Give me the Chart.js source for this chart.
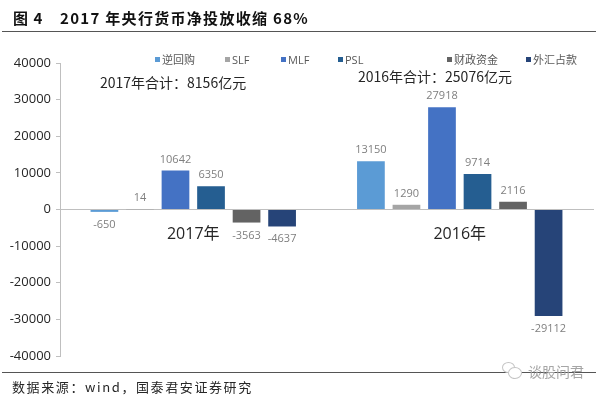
<!DOCTYPE html>
<html>
<head>
<meta charset="utf-8">
<script src="https://cdn.jsdelivr.net/npm/chart.js@4"></script>
<style>
  html, body { margin: 0; padding: 0; background: #fff; }
  #wrap { position: relative; width: 600px; height: 396px; overflow: hidden; font-family: "Noto Sans CJK SC", sans-serif; }
  #wrap canvas { position: absolute; left: 0; top: 0; }
  .txt { position: absolute; white-space: nowrap; color: #262626; }
  .rule { position: absolute; left: 2px; width: 594px; height: 1px; background: #555; }
  .legend-item { position: absolute; top: 52px; font-size: 11px; line-height: 16px; color: #595959; white-space: nowrap; font-family: "Open Sans", "Noto Sans CJK SC", sans-serif; }
  .legend-item i { display: inline-block; width: 5px; height: 5px; margin-right: 2px; vertical-align: 2px; }
  .wm { position: absolute; border: 1px solid #c4c4c4; border-radius: 50%; background: #fff; }
</style>
</head>
<body>
<div id="wrap">
  <canvas id="chart" width="600" height="396"></canvas>
  <div class="txt" style="left:13px;top:7px;font-size:15px;font-weight:700;color:#111;letter-spacing:1px">图 4</div>
  <div class="txt" style="left:60px;top:7px;font-size:15px;font-weight:700;color:#111;letter-spacing:1.3px">2017 年央行货币净投放收缩 68%</div>
  <div class="rule" style="top:31px"></div>
  <div class="txt" style="left:100px;top:72px;font-size:14px">2017年合计：8156亿元</div>
  <div class="txt" style="left:358px;top:66px;font-size:14px">2016年合计：25076亿元</div>
  <div class="rule" style="top:372px"></div>
  <div class="txt" style="left:12px;top:377px;font-size:13px;letter-spacing:1.6px">数据来源：wind，国泰君安证券研究</div>
  <div class="wm" style="left:502px;top:362px;width:11px;height:9px"></div>
  <div class="wm" style="left:508px;top:367px;width:12px;height:10px"></div>
  <div class="txt" style="left:528px;top:361px;font-size:14px;color:#a6a6a6">谈股问君</div>
  <div id="legend"></div>
</div>
<script>
const categories = ["2017年", "2016年"]
const seriesNames = ["逆回购", "SLF", "MLF", "PSL", "财政资金", "外汇占款"]
const reverseRepo = [-650, 13150]
const slf = [14, 1290]
const mlf = [10642, 27918]
const psl = [6350, 9714]
const fiscal = [-3563, 2116]
const fxReserves = [-4637, -29112]
const seriesColors = ["#5b9bd5", "#a5a5a5", "#4472c4", "#255e91", "#636363", "#264478"]
const legendLeft = [155, 225, 281, 338, 447, 526]

// Excel-style value labels outside the bar end
const valueLabels = {
  id: "valueLabels",
  afterDatasetsDraw(chart) {
    const ctx = chart.ctx
    ctx.save()
    ctx.font = '11px "Open Sans", sans-serif'
    ctx.fillStyle = "#7f7f7f"
    ctx.textAlign = "center"
    chart.data.datasets.forEach((ds, i) => {
      chart.getDatasetMeta(i).data.forEach((bar, j) => {
        const v = ds.data[j]
        const y = v >= 0 ? bar.y - 8 : bar.y + 16
        ctx.fillText(String(v), bar.x, y)
      })
    })
    ctx.restore()
  },
}

new Chart(document.getElementById("chart"), {
  type: "bar",
  data: {
    labels: categories,
    datasets: [reverseRepo, slf, mlf, psl, fiscal, fxReserves].map((values, i) => ({
      label: seriesNames[i],
      data: values,
      backgroundColor: seriesColors[i],
      categoryPercentage: 0.8,
      barPercentage: 0.78,
    })),
  },
  options: {
    responsive: false,
    animation: false,
    layout: { padding: { left: 0, right: 7, top: 63, bottom: 40 } },
    plugins: { legend: { display: false }, tooltip: { enabled: false } },
    scales: {
      x: {
        position: { y: 0 },
        grid: { display: false },
        border: { color: "#bfbfbf" },
        ticks: { color: "#262626", padding: 7, font: { size: 16, family: '"Open Sans", "Noto Sans CJK SC", sans-serif' } },
      },
      y: {
        min: -40000,
        max: 40000,
        afterFit(scale) { scale.width = 60 },
        grid: { drawOnChartArea: false, tickLength: 4, tickColor: "#bfbfbf" },
        border: { color: "#bfbfbf" },
        ticks: {
          stepSize: 10000,
          color: "#262626",
          padding: 5,
          font: { size: 13, family: '"Open Sans", sans-serif' },
          callback: (value) => String(value),
        },
      },
    },
  },
  plugins: [valueLabels],
})

// Legend spacing in the reference is uneven, so it is placed by hand
const legendBox = document.getElementById("legend")
seriesNames.forEach((name, i) => {
  const item = document.createElement("div")
  item.className = "legend-item"
  item.style.left = legendLeft[i] + "px"
  item.innerHTML = `<i style="background:${seriesColors[i]}"></i>${name}`
  legendBox.appendChild(item)
})
</script>
</body>
</html>
